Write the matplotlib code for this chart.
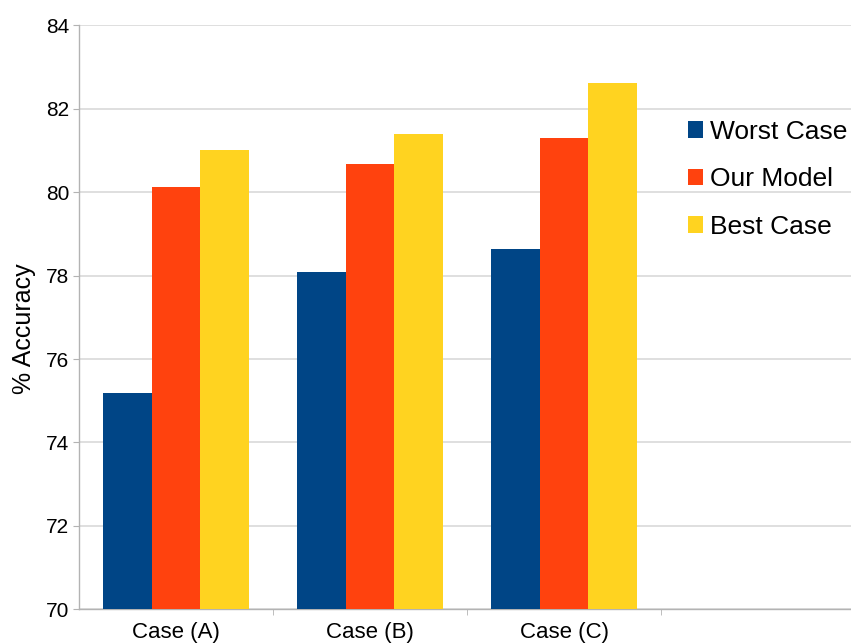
import numpy as np
import matplotlib.pyplot as plt

plt.rcParams['font.family'] = ['Liberation Sans', 'DejaVu Sans']

cases = ['Case (A)', 'Case (B)', 'Case (C)']
series = ['Worst Case', 'Our Model', 'Best Case']
worst = [75.18, 78.09, 78.63]
ours = [80.13, 80.67, 81.30]
best = [81.00, 81.40, 82.61]
colors = ['#004586', '#ff420e', '#ffd320']

fig = plt.figure(figsize=(8.51, 6.44), dpi=100)
ax = fig.add_axes([79 / 851, 34.7 / 644, 772 / 851, 584 / 644])

x = np.arange(len(cases))
w = 0.25
for i, (vals, name, c) in enumerate(zip([worst, ours, best], series, colors)):
    ax.bar(x + (i - 1) * w, np.array(vals) - 70, w, bottom=70, color=c,
           label=name, zorder=3)

ax.set_ylim(70, 84)
ax.set_yticks(np.arange(70, 85, 2))
ax.set_xlim(-0.5, -0.5 + 772 / 194)
ax.set_xticks(x)
ax.set_xticklabels(cases)
ax.set_xticks(np.arange(0.5, 3.0, 1), minor=True)
ax.tick_params(axis='x', which='major', length=0, labelsize=16, pad=9)
ax.tick_params(axis='x', which='minor', length=4, color='#b3b3b3')
ax.tick_params(axis='y', length=4, color='#b3b3b3', labelsize=15, pad=3)
ax.yaxis.grid(True, color='#d9d9d9', linewidth=1.2, zorder=0)

for s in ['top', 'right']:
    ax.spines[s].set_visible(False)
for s in ['left', 'bottom']:
    ax.spines[s].set_color('#b3b3b3')
    ax.spines[s].set_linewidth(1.0)

ax.set_ylabel('% Accuracy', fontsize=18)
ax.yaxis.set_label_coords(-43 / 772, 0.48)

fig.legend(loc='upper left', bbox_to_anchor=(677 / 851, 1 - 109 / 644),
           frameon=False, fontsize=19, handlelength=0.6, handleheight=0.6,
           handletextpad=0.25, labelspacing=0.9, borderaxespad=0)

fig.savefig('out.png', dpi=100)
